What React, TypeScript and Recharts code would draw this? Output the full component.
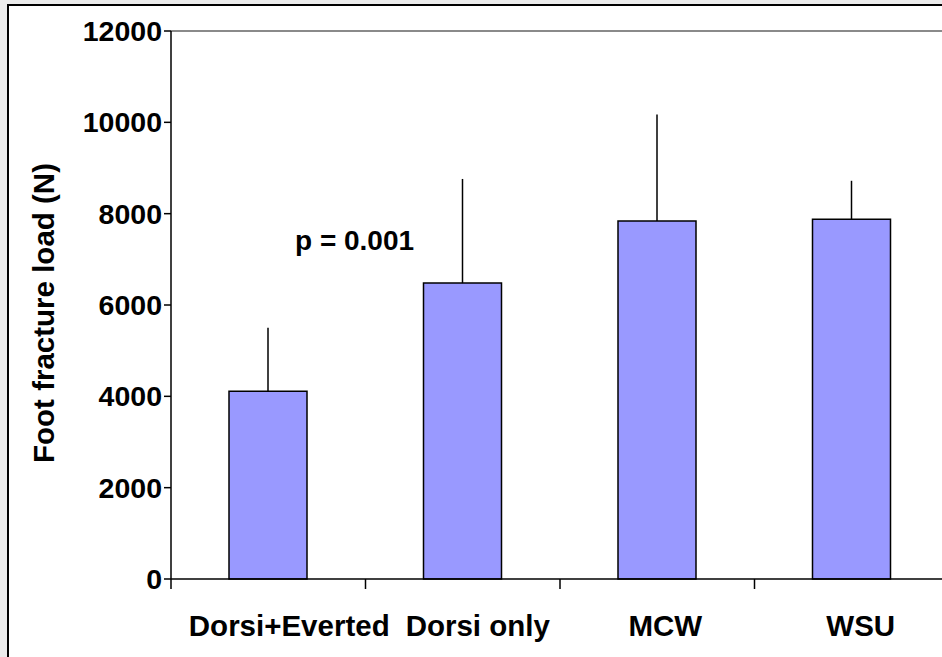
import { BarChart, Bar, XAxis, YAxis, ErrorBar, ReferenceLine } from 'recharts';

const groups = ['Dorsi+Everted', 'Dorsi only', 'MCW', 'WSU'];
const loads = [4110, 6480, 7840, 7880];
const upperErr = [1390, 2280, 2330, 840];
const yTicks = [0, 2000, 4000, 6000, 8000, 10000, 12000];

const data = groups.map((name, i) => ({
  name,
  load: loads[i],
  err: [0, upperErr[i]],
}));

const FONT = '"Liberation Sans", Arial, Helvetica, sans-serif';
const PLOT_W = 778;
// labels in the source sit a bit right of the bar centres
const LABEL_DX = [21, 15, 8, 9];

function CategoryTick(props: any) {
  const { x, y, payload, index } = props;
  const half = payload?.offset || PLOT_W / groups.length / 2;
  const last = index === groups.length - 1;
  return (
    <g>
      <line x1={x - half} x2={x - half} y1={y - 10} y2={y} stroke="#000" strokeWidth={1.5} />
      {last && <line x1={x + half} x2={x + half} y1={y - 10} y2={y} stroke="#000" strokeWidth={1.5} />}
      <text
        x={x + (LABEL_DX[index] ?? 0)}
        y={y + 47}
        textAnchor="middle"
        fontFamily={FONT}
        fontWeight="bold"
        fontSize={29.5}
        fill="#000"
      >
        {payload.value}
      </text>
    </g>
  );
}

export default function App() {
  return (
    <div style={{ position: 'fixed', inset: 0, background: '#ebebeb', overflow: 'hidden' }}>
      <div
        style={{
          position: 'absolute',
          left: 7,
          top: 4,
          width: 1000,
          height: 700,
          background: '#fff',
          borderLeft: '2px solid #000',
          borderTop: '2px solid #000',
        }}
      />
      <div style={{ position: 'absolute', left: 0, top: 0 }}>
        <BarChart
          width={960}
          height={657}
          data={data}
          margin={{ top: 31, right: 11, left: 0, bottom: 18 }}
          barCategoryGap={0}
        >
          <ReferenceLine y={12000} stroke="#8a8a8a" strokeWidth={2} />
          <XAxis
            dataKey="name"
            height={60}
            axisLine={{ stroke: '#000', strokeWidth: 1.5 }}
            tickLine={false}
            tickSize={10}
            tickMargin={0}
            interval={0}
            tick={<CategoryTick />}
          />
          <YAxis
            width={171}
            domain={[0, 12000]}
            ticks={yTicks}
            interval={0}
            tickSize={7}
            tickMargin={2}
            axisLine={{ stroke: '#000', strokeWidth: 1.5 }}
            tickLine={{ stroke: '#000', strokeWidth: 1.5 }}
            tick={{ fill: '#000', fontFamily: FONT, fontWeight: 'bold', fontSize: 28.5 }}
            label={{
              value: 'Foot fracture load (N)',
              angle: -90,
              position: 'insideLeft',
              offset: 0,
              dx: 44,
              dy: 8,
              style: { fill: '#000', fontFamily: FONT, fontWeight: 'bold', fontSize: 29.5, textAnchor: 'middle' },
            }}
          />
          <Bar dataKey="load" barSize={78} fill="#9999ff" stroke="#000" strokeWidth={1.5} isAnimationActive={false}>
            <ErrorBar dataKey="err" width={0} stroke="#000" strokeWidth={1.5} direction="y" />
          </Bar>
        </BarChart>
      </div>
      <div
        style={{
          position: 'absolute',
          left: 295,
          top: 224,
          fontFamily: FONT,
          fontWeight: 'bold',
          fontSize: 28,
          lineHeight: '34px',
          color: '#000',
          whiteSpace: 'nowrap',
        }}
      >
        p = 0.001
      </div>
    </div>
  );
}
